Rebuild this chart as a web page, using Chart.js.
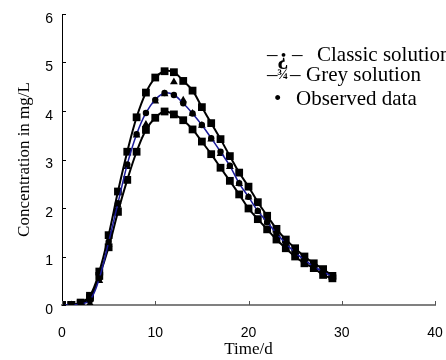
<!DOCTYPE html>
<html>
<head>
<meta charset="utf-8">
<script src="https://cdn.jsdelivr.net/npm/chart.js@4.4.1/dist/chart.umd.min.js"></script>
<style>
  html, body { margin: 0; padding: 0; background: #fff; }
  canvas { display: block; }
</style>
</head>
<body>
<canvas id="concChart" width="446" height="360"></canvas>
<script>
// Data (time in days, concentration in mg/L)
const days = [0, 1, 2, 3, 4, 5, 6, 7, 8, 9, 10, 11, 12, 13, 14, 15, 16, 17, 18, 19, 20, 21, 22, 23, 24, 25, 26, 27, 28, 29];
const greyUpper = [0, 0, 0.05, 0.19, 0.69, 1.44, 2.34, 3.16, 3.87, 4.38, 4.69, 4.82, 4.80, 4.62, 4.42, 4.08, 3.75, 3.42, 3.07, 2.73, 2.44, 2.12, 1.84, 1.57, 1.35, 1.17, 1.00, 0.86, 0.74, 0.60];
const greyLower = [0, 0, 0.03, 0.15, 0.60, 1.19, 1.92, 2.58, 3.16, 3.61, 3.86, 3.99, 3.93, 3.81, 3.62, 3.37, 3.11, 2.83, 2.56, 2.28, 1.99, 1.77, 1.56, 1.35, 1.17, 1.00, 0.86, 0.76, 0.62, 0.55];
const classic = [0, 0, 0.02, 0.03, 0.50, 1.25, 2.05, 2.85, 3.50, 3.72, 4.20, 4.35, 4.60, 4.22, 3.95, 3.70, 3.42, 3.12, 2.85, 2.50, 2.22, 1.93, 1.70, 1.47, 1.26, 1.07, 0.92, 0.78, 0.68, 0.58];
const observed = [0, 0, 0.02, 0.10, 0.55, 1.30, 2.10, 2.90, 3.52, 3.96, 4.23, 4.37, 4.33, 4.16, 3.95, 3.71, 3.44, 3.16, 2.87, 2.51, 2.23, 1.94, 1.71, 1.48, 1.27, 1.08, 0.93, 0.79, 0.69, 0.58];
const xTicks = [0, 10, 20, 30, 40];
const yTicks = [0, 1, 2, 3, 4, 5, 6];
const legendLabels = ['Classic solution', 'Grey solution', 'Observed data'];

const toPoints = (vals) => vals.map((v, i) => ({ x: days[i], y: v }));

// small inward tick marks, placed through the scales
const inwardTicks = {
    id: 'inwardTicks',
    afterDraw(chart) {
        const ctx = chart.ctx;
        const xs = chart.scales.x, ys = chart.scales.y;
        ctx.save();
        ctx.lineWidth = 1;
        ctx.strokeStyle = '#555';
        xTicks.forEach(t => {
            const px = Math.round(xs.getPixelForValue(t)) + 0.5;
            ctx.beginPath();
            ctx.moveTo(px, ys.bottom);
            ctx.lineTo(px, ys.bottom - 4);
            ctx.stroke();
        });
        ctx.strokeStyle = '#000';
        yTicks.forEach(t => {
            const py = Math.round(ys.getPixelForValue(t)) + 0.5;
            ctx.beginPath();
            ctx.moveTo(xs.left, py);
            ctx.lineTo(xs.left + 4, py);
            ctx.stroke();
        });
        ctx.restore();
    }
};

// text legend as printed in the figure (symbols are garbled glyphs in the source)
const textLegend = {
    id: 'textLegend',
    afterDraw(chart) {
        const ctx = chart.ctx;
        ctx.save();
        ctx.fillStyle = '#000';
        ctx.textBaseline = 'middle';
        const reg = '21px "Liberation Serif"';
        // row 1
        ctx.font = reg;
        ctx.fillText('\u2013', 267, 55);
        ctx.font = 'bold 23px "Liberation Serif"';
        ctx.fillText('\u00BF', 277, 58);
        ctx.font = reg;
        ctx.fillText('\u2013', 292, 55);
        ctx.fillText(legendLabels[0], 317, 55);
        // row 2
        ctx.fillText('\u2013', 267, 75);
        ctx.font = 'bold 15px "Liberation Serif"';
        ctx.fillText('\u00BE', 277, 75);
        ctx.font = reg;
        ctx.fillText('\u2013', 290, 75);
        ctx.fillText(legendLabels[1], 306, 75);
        // row 3
        ctx.fillText('\u2022', 274, 99);
        ctx.fillText(legendLabels[2], 296, 99);
        ctx.restore();
    }
};

const ctx = document.getElementById('concChart').getContext('2d');
const concChart = new Chart(ctx, {
    type: 'line',
    data: {
        datasets: [
            {
                label: legendLabels[2],
                data: toPoints(observed),
                borderColor: '#1a1a9a',
                borderWidth: 1.5,
                tension: 0.4,
                pointStyle: 'circle',
                pointRadius: 3.2,
                pointBackgroundColor: '#000',
                pointBorderColor: '#000',
                pointBorderWidth: 0
            },
            {
                label: legendLabels[0],
                data: toPoints(classic),
                showLine: false,
                pointStyle: 'triangle',
                pointRadius: 4.5,
                pointBackgroundColor: '#000',
                pointBorderColor: '#000',
                pointBorderWidth: 0
            },
            {
                label: legendLabels[1] + ' (upper)',
                data: toPoints(greyUpper),
                borderColor: '#000',
                borderWidth: 2,
                tension: 0.4,
                pointStyle: 'rect',
                pointRadius: 5.5,
                pointBackgroundColor: '#000',
                pointBorderColor: '#000',
                pointBorderWidth: 0
            },
            {
                label: legendLabels[1] + ' (lower)',
                data: toPoints(greyLower),
                borderColor: '#000',
                borderWidth: 2,
                tension: 0.4,
                pointStyle: 'rect',
                pointRadius: 5.5,
                pointBackgroundColor: '#000',
                pointBorderColor: '#000',
                pointBorderWidth: 0
            }
        ]
    },
    options: {
        responsive: false,
        animation: false,
        layout: { padding: { top: 14, right: 11, left: 0, bottom: 0 } },
        plugins: {
            legend: { display: false },
            tooltip: { enabled: false }
        },
        scales: {
            x: {
                type: 'linear',
                min: 0,
                max: 40,
                afterFit: (s) => { s.height = 55; },
                afterBuildTicks: (s) => { s.ticks = xTicks.map(v => ({ value: v })); },
                grid: { display: false, drawTicks: true, tickLength: 18 },
                border: { display: true, color: '#808080', width: 2 },
                ticks: {
                    color: '#000',
                    padding: 2,
                    font: { family: '"Liberation Sans"', size: 14 }
                },
                title: {
                    display: true,
                    text: 'Time/d',
                    color: '#000',
                    padding: { top: 0, bottom: 0 },
                    font: { family: '"Liberation Serif"', size: 17 }
                }
            },
            y: {
                min: 0,
                max: 6,
                afterFit: (s) => { s.width = 62; },
                afterBuildTicks: (s) => { s.ticks = yTicks.map(v => ({ value: v })); },
                grid: { display: false, drawTicks: true, tickLength: 7 },
                border: { display: true, color: '#000', width: 1 },
                ticks: {
                    color: '#000',
                    padding: 2,
                    labelOffset: 5,
                    font: { family: '"Liberation Sans"', size: 14 }
                },
                title: {
                    display: true,
                    text: 'Concentration in mg/L',
                    color: '#000',
                    padding: { top: 14, bottom: 0 },
                    font: { family: '"Liberation Serif"', size: 17 }
                }
            }
        }
    },
    plugins: [inwardTicks, textLegend]
});
</script>
</body>
</html>
